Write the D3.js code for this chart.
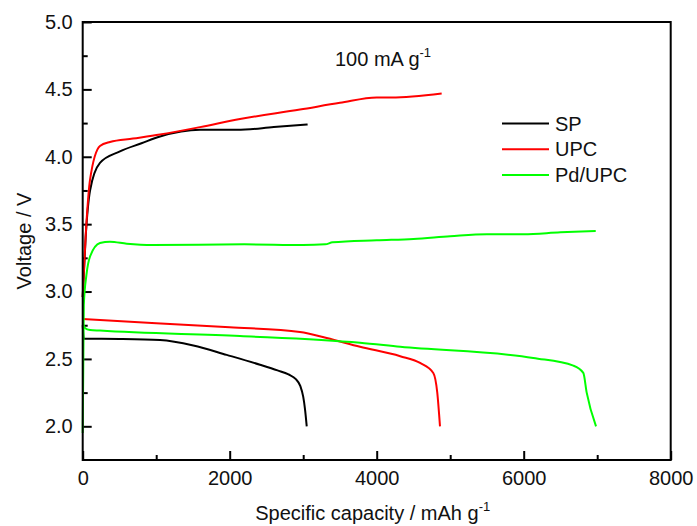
<!DOCTYPE html>
<html>
<head>
<meta charset="utf-8">
<script src="https://cdn.jsdelivr.net/npm/d3@7"></script>
<style>
    body { margin: 0; background: #fff; }
    svg { font-family: "Liberation Sans", Arial, sans-serif; }
</style>
</head>
<body>
<svg width="697" height="526"></svg>
<script>
// données : [capacité mAh/g, tension V]
const spCharge = [[0, 2.96], [40, 3.4], [100, 3.75], [235, 3.955], [507, 4.04], [800, 4.1], [1052, 4.15], [1597, 4.2], [2100, 4.2], [2600, 4.22], [3060, 4.24]];
const spDecharge = [[0, 2.75], [15, 2.65], [500, 2.648], [1052, 2.64], [1505, 2.6], [1959, 2.53], [2412, 2.457], [2650, 2.415], [2800, 2.385], [2900, 2.35], [2960, 2.3], [3000, 2.22], [3024, 2.13], [3048, 2.0]];
const upcCharge = [[0, 2.96], [50, 3.5], [100, 3.83], [235, 4.08], [371, 4.11], [684, 4.135], [1052, 4.165], [1597, 4.22], [2140, 4.28], [2956, 4.35], [3500, 4.4], [4000, 4.44], [4200, 4.44], [4884, 4.47]];
const upcDecharge = [[0, 2.796], [1000, 2.765], [2000, 2.735], [2956, 2.7], [3320, 2.655], [3773, 2.59], [4320, 2.52], [4590, 2.47], [4770, 2.396], [4824, 2.25], [4861, 2.0]];
const pdCharge = [[0, 1.95], [15, 2.9], [50, 3.12], [100, 3.26], [235, 3.36], [371, 3.37], [600, 3.355], [950, 3.345], [2200, 3.35], [3000, 3.345], [3300, 3.35], [3400, 3.365], [4000, 3.38], [4500, 3.39], [5000, 3.41], [5500, 3.425], [6000, 3.425], [6500, 3.44], [6980, 3.45]];
const pdDecharge = [[0, 2.76], [30, 2.73], [100, 2.715], [235, 2.71], [2140, 2.67], [3773, 2.62], [4320, 2.59], [6130, 2.507], [6675, 2.45], [6811, 2.396], [6857, 2.25], [6984, 2.0]];

const noms = ['SP', 'UPC', 'Pd/UPC'];
const couleurs = ['#000000', '#ff0000', '#00ff00'];
const xTicks = [0, 2000, 4000, 6000, 8000];
const yTicks = [2.0, 2.5, 3.0, 3.5, 4.0, 4.5, 5.0];

const courbes = [
    { nom: 'SP', pts: spCharge }, { nom: 'SP', pts: spDecharge },
    { nom: 'UPC', pts: upcCharge }, { nom: 'UPC', pts: upcDecharge },
    { nom: 'Pd/UPC', pts: pdCharge }, { nom: 'Pd/UPC', pts: pdDecharge }
];

const svg = d3.select('svg');
const gauche = 82.7, droite = 670.7, haut = 22, bas = 460;

const x = d3.scaleLinear().domain([0, 8000]).range([gauche, droite]);
const y = d3.scaleLinear().domain([1.75, 5.0]).range([bas, haut]);
const couleur = d3.scaleOrdinal().domain(noms).range(couleurs);

// ticks mineurs
svg.append('g')
    .attr('transform', `translate(0, ${bas})`)
    .call(d3.axisBottom(x).tickValues(d3.range(1000, 8000, 2000)).tickSize(-5).tickFormat(''))
    .call(g => g.select('.domain').remove());
svg.append('g')
    .attr('transform', `translate(${gauche}, 0)`)
    .call(d3.axisLeft(y).tickValues([2.25, 2.75, 3.25, 3.75, 4.25, 4.75]).tickSize(-5).tickFormat(''))
    .call(g => g.select('.domain').remove());

// axes principaux
svg.append('g')
    .attr('transform', `translate(0, ${bas})`)
    .call(d3.axisBottom(x).tickValues(xTicks).tickSize(-9).tickPadding(11).tickFormat(d3.format('d')))
    .call(g => g.select('.domain').remove());
svg.append('g')
    .attr('transform', `translate(${gauche}, 0)`)
    .call(d3.axisLeft(y).tickValues(yTicks).tickSize(-9).tickPadding(10).tickFormat(d3.format('.1f')))
    .call(g => g.select('.domain').remove());

svg.selectAll('.tick line').attr('stroke', '#000').attr('stroke-width', 2);
svg.selectAll('.tick text').attr('font-size', 20).attr('fill', '#111').attr('font-family', '"Liberation Sans", Arial, sans-serif');

// courbes
const ligne = d3.line()
    .x(d => x(d[0]))
    .y(d => y(d[1]))
    .curve(d3.curveMonotoneX);

svg.append('g')
    .selectAll('path')
    .data(courbes)
    .join('path')
    .attr('d', c => ligne(c.pts))
    .attr('fill', 'none')
    .attr('stroke', c => couleur(c.nom))
    .attr('stroke-width', 2);

// cadre
svg.append('rect')
    .attr('x', gauche)
    .attr('y', haut)
    .attr('width', droite - gauche)
    .attr('height', bas - haut)
    .attr('fill', 'none')
    .attr('stroke', '#000')
    .attr('stroke-width', 2);

// titres des axes
const titreX = svg.append('text')
    .attr('x', (gauche + droite) / 2 - 4)
    .attr('y', 520)
    .attr('text-anchor', 'middle')
    .attr('font-size', 20)
    .attr('fill', '#111');
titreX.append('tspan').text('Specific capacity / mAh g');
titreX.append('tspan').text('-1').attr('font-size', 13).attr('dy', -9);

svg.append('text')
    .attr('transform', `translate(31, ${(haut + bas) / 2}) rotate(-90)`)
    .attr('text-anchor', 'middle')
    .attr('font-size', 20)
    .attr('fill', '#111')
    .text('Voltage / V');

// annotation
const note = svg.append('text')
    .attr('x', 335)
    .attr('y', 66)
    .attr('font-size', 20)
    .attr('fill', '#111');
note.append('tspan').text('100 mA g');
note.append('tspan').text('-1').attr('font-size', 13).attr('dy', -9);

// légende
const legende = svg.append('g')
    .selectAll('g')
    .data(noms)
    .join('g')
    .attr('transform', (d, i) => `translate(502, ${123.5 + i * 25.8})`);

legende.append('line')
    .attr('x1', 0)
    .attr('x2', 47)
    .attr('stroke', d => couleur(d))
    .attr('stroke-width', 2);

legende.append('text')
    .text(d => d)
    .attr('x', 53)
    .attr('y', 7)
    .attr('font-size', 20)
    .attr('fill', '#111');
</script>
</body>
</html>
